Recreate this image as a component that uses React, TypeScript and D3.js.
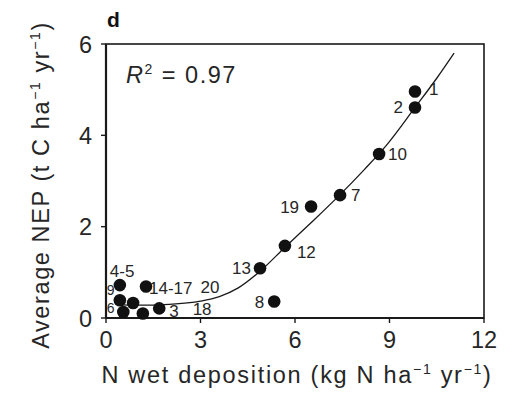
import React from "react";
import * as d3 from "d3";

const siteLabels = ["1", "2", "10", "7", "19", "12", "13", "8", "4-5", "14-17", "", "", "", "", "3"];
const nDeposition = [9.81, 9.81, 8.67, 7.43, 6.51, 5.68, 4.89, 5.34, 0.44, 1.27, 0.44, 0.86, 0.55, 1.17, 1.69];
const averageNEP = [4.96, 4.61, 3.59, 2.69, 2.44, 1.58, 1.09, 0.36, 0.72, 0.69, 0.39, 0.33, 0.13, 0.1, 0.21];

const fitX = [0.3, 1, 2, 3, 3.6, 4.2, 4.9, 5.7, 6.5, 7.4, 8.2, 8.9, 9.8, 10.5, 11.05];
const fitY = [0.3, 0.28, 0.3, 0.37, 0.47, 0.66, 1.03, 1.56, 2.08, 2.68, 3.25, 3.78, 4.6, 5.25, 5.8];

const xTicks = [0, 3, 6, 9, 12];
const yTicks = [0, 2, 4, 6];

// label offsets (dx, dy, anchor) per site label
const labelPos: Record<string, [number, number, string]> = {
  "1": [14, 4, "start"],
  "2": [-12, 6, "end"],
  "10": [9, 6, "start"],
  "7": [11, 6, "start"],
  "19": [-12, 6, "end"],
  "12": [12, 12, "start"],
  "13": [-9, 6, "end"],
  "8": [-10, 6, "end"],
  "4-5": [-10, -8, "start"],
  "14-17": [3, 8, "start"],
  "3": [10, 9, "start"],
};

const extraLabels = [
  { text: "20", x: 3.0, y: 0.55 },
  { text: "18", x: 2.75, y: 0.06 },
  { text: "9", x: 0.02, y: 0.5 },
  { text: "6", x: 0.02, y: 0.12 },
];

export default function App() {
  const W = 515, H = 396;
  const m = { left: 106, right: 484, top: 44, bottom: 318 };
  const x = d3.scaleLinear().domain([0, 12]).range([m.left, m.right]);
  const y = d3.scaleLinear().domain([0, 6]).range([m.bottom, m.top]);
  const line = d3.line<number>().x((_, i) => x(fitX[i])).y((d) => y(d)).curve(d3.curveMonotoneX);
  const font = "'Liberation Sans', Arial, Helvetica, sans-serif";
  const ink = "#1a1a1a";
  const txt = "#262626";

  return (
    <svg width={W} height={H} style={{ position: "absolute", left: 0, top: 0, background: "#fff" }} fontFamily={font}>
      <rect x={0} y={0} width={W} height={H} fill="#fff" />
      {/* frame */}
      <rect x={m.left} y={m.top} width={m.right - m.left} height={m.bottom - m.top} fill="none" stroke={ink} strokeWidth={1.6} />
      <line x1={m.left} x2={m.left} y1={m.top} y2={m.bottom} stroke={ink} strokeWidth={2.2} />
      <line x1={m.left} x2={m.right} y1={m.bottom} y2={m.bottom} stroke={ink} strokeWidth={2.2} />
      {/* x ticks */}
      {xTicks.map((t) => (
        <g key={"x" + t}>
          <line x1={x(t)} x2={x(t)} y1={m.bottom} y2={m.bottom + 5} stroke={ink} strokeWidth={1.4} />
          <text x={x(t)} y={m.bottom + 30} textAnchor="middle" fontSize={23.5} fill={txt}>{t}</text>
        </g>
      ))}
      {yTicks.map((t) => (
        <g key={"y" + t}>
          <line x1={m.left - 5} x2={m.left} y1={y(t)} y2={y(t)} stroke={ink} strokeWidth={1.4} />
          <text x={m.left - 14} y={y(t) + 8.5} textAnchor="end" fontSize={23.5} fill={txt}>{t}</text>
        </g>
      ))}
      {/* axis titles */}
      <text x={297} y={383} textAnchor="middle" fontSize={23.5} letterSpacing={1.7} fill={txt}>
        N wet deposition (kg N ha<tspan dy={-9} fontSize={14}>−1</tspan><tspan dy={9}> yr</tspan><tspan dy={-9} fontSize={14}>−1</tspan><tspan dy={9}>)</tspan>
      </text>
      <text transform={`translate(49,${185}) rotate(-90)`} textAnchor="middle" fontSize={23.5} letterSpacing={1.6} fill={txt}>
        Average NEP (t C ha<tspan dy={-9} fontSize={14}>−1</tspan><tspan dy={9}> yr</tspan><tspan dy={-9} fontSize={14}>−1</tspan><tspan dy={9}>)</tspan>
      </text>
      {/* panel letter */}
      <text x={107} y={27} fontSize={21} fontWeight="bold" fill="#111">d</text>
      {/* R2 */}
      <text x={126} y={83} fontSize={23.5} letterSpacing={1.5} fill={txt}>
        <tspan fontStyle="italic">R</tspan><tspan dy={-9} fontSize={14}>2</tspan><tspan dy={9}> = 0.97</tspan>
      </text>
      {/* fit curve */}
      <path d={line(fitY) || ""} fill="none" stroke={ink} strokeWidth={1.3} />
      {/* points */}
      {nDeposition.map((v, i) => (
        <circle key={"p" + i} cx={x(v)} cy={y(averageNEP[i])} r={6.3} fill="#111" />
      ))}
      {/* labels */}
      {siteLabels.map((lab, i) => {
        if (!lab) return null;
        const p = labelPos[lab];
        return (
          <text key={"l" + i} x={x(nDeposition[i]) + p[0]} y={y(averageNEP[i]) + p[1]} textAnchor={p[2] as any} fontSize={17} fill={txt}>
            {lab}
          </text>
        );
      })}
      {extraLabels.map((e, i) => (
        <text key={"e" + i} x={x(e.x)} y={y(e.y)} fontSize={e.text.length === 1 ? 14 : 17} fill={txt}>{e.text}</text>
      ))}
    </svg>
  );
}
